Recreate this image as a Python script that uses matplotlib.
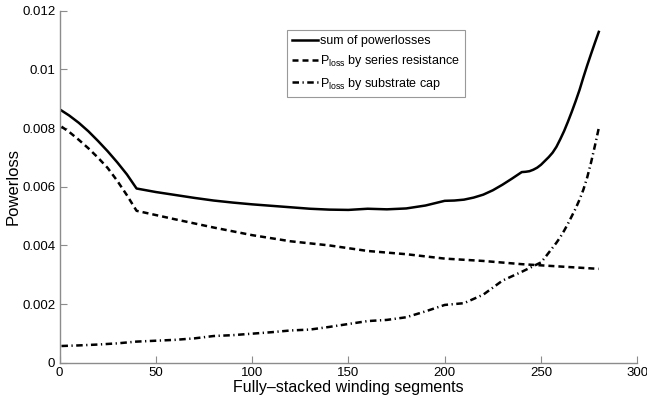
import matplotlib
matplotlib.use("Agg")
import matplotlib.pyplot as plt

plt.rcParams['font.family'] = ['Liberation Sans', 'DejaVu Sans']
plt.rcParams['mathtext.fontset'] = 'custom'
plt.rcParams['mathtext.rm'] = 'Liberation Sans'

# ---- data ----
x_sum = [1, 5, 10, 15, 20, 25, 30, 35, 40, 50, 60, 70, 80, 90, 100, 110, 120,
         130, 140, 150, 160, 170, 180, 190, 200, 205, 210, 215, 220, 225, 230, 235,
         240, 242, 244, 246, 248, 250, 252, 254, 256, 258, 260, 262, 264, 266, 268,
         270, 272, 274, 276, 278, 280]
sum_loss = [0.00860, 0.00843, 0.00818, 0.00789, 0.00756, 0.00721, 0.00683, 0.00642,
            0.00594, 0.00582, 0.00572, 0.00562, 0.00553, 0.00546, 0.00540, 0.00535,
            0.00530, 0.00525, 0.00522, 0.00521, 0.00525, 0.00523, 0.00526, 0.00536,
            0.00552, 0.00553, 0.00556, 0.00563, 0.00573, 0.00588, 0.00607, 0.00628,
            0.00650, 0.00651, 0.00653, 0.00658, 0.00665, 0.00675, 0.00688, 0.00701,
            0.00716, 0.00736, 0.00762, 0.00790, 0.00822, 0.00856, 0.00892, 0.00930,
            0.00973, 0.01014, 0.01053, 0.01091, 0.01128]

x_series = [1, 5, 10, 15, 20, 25, 30, 35, 40, 60, 80, 100, 120, 140, 160, 180, 200,
            220, 240, 260, 280]
series_loss = [0.00805, 0.00787, 0.00760, 0.00731, 0.00699, 0.00664, 0.00620, 0.00571,
               0.00518, 0.00489, 0.00461, 0.00435, 0.00414, 0.00400, 0.00381, 0.00370,
               0.00355, 0.00347, 0.00336, 0.00328, 0.00320]

x_cap = [1, 10, 20, 30, 40, 50, 60, 70, 80, 90, 100, 110, 120, 130, 140, 150, 160,
         170, 180, 190, 200, 210, 220, 230, 240, 245, 250, 252, 254, 256, 258, 260,
         262, 264, 266, 268, 270, 272, 274, 276, 278, 280]
cap_loss = [0.00057, 0.00059, 0.00062, 0.00066, 0.00072, 0.00075, 0.00078, 0.00083,
            0.00091, 0.00094, 0.00099, 0.00104, 0.00110, 0.00113, 0.00122, 0.00132,
            0.00142, 0.00146, 0.00155, 0.00175, 0.00197, 0.00203, 0.00232, 0.00280,
            0.00310, 0.00326, 0.00342, 0.00358, 0.00375, 0.00392, 0.00409, 0.00428,
            0.00450, 0.00474, 0.00500, 0.00526, 0.00556, 0.00590, 0.00632, 0.00683,
            0.00740, 0.00800]

xticks = [0, 50, 100, 150, 200, 250, 300]
yticks = [0, 0.002, 0.004, 0.006, 0.008, 0.01, 0.012]
ytick_labels = ['0', '0.002', '0.004', '0.006', '0.008', '0.01', '0.012']

fig = plt.figure(figsize=(6.47, 4.05), dpi=100)
ax = fig.add_axes([0.092, 0.1044, 0.893, 0.869])

ax.plot(x_sum, sum_loss, color='black', linestyle='-', linewidth=1.8,
        label='sum of powerlosses')
ax.plot(x_series, series_loss, color='black', linestyle=(0, (2.4, 1.6)), linewidth=1.8,
        label=r'P$_{\mathrm{loss}}$ by series resistance')
ax.plot(x_cap, cap_loss, color='black', linestyle=(0, (2.6, 1.4, 0.5, 1.4)), linewidth=1.8,
        label=r'P$_{\mathrm{loss}}$ by substrate cap')

ax.set_xlim(0, 300)
ax.set_ylim(0, 0.012)
ax.set_xticks(xticks)
ax.set_xticklabels([str(t) for t in xticks])
ax.set_yticks(yticks)
ax.set_yticklabels(ytick_labels)

for s in ['top', 'right']:
    ax.spines[s].set_visible(False)
for s in ['left', 'bottom']:
    ax.spines[s].set_color('0.55')
    ax.spines[s].set_linewidth(1.0)
ax.tick_params(direction='in', length=5, width=0.8, color='0.55',
               labelsize=9.5, labelcolor='black', pad=3)

ax.set_xlabel('Fully\u2013stacked winding segments', fontsize=11.5, labelpad=1)
ax.set_ylabel('Powerloss', fontsize=12, labelpad=1)

leg = ax.legend(loc='upper left', bbox_to_anchor=(0.393, 0.945), fontsize=9,
                frameon=True, fancybox=False, handlelength=2.15, handletextpad=0.15,
                borderpad=0.4, labelspacing=0.5, borderaxespad=0)
leg.get_frame().set_edgecolor('0.5')
leg.get_frame().set_linewidth(0.8)

fig.savefig('out.png', dpi=100)
